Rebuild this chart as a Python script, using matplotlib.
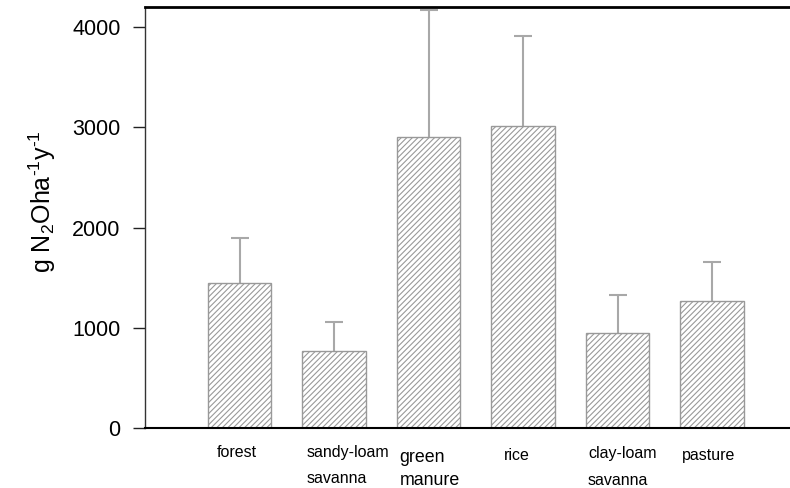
import matplotlib
matplotlib.use("Agg")
import matplotlib.pyplot as plt
import matplotlib.transforms as mtransforms

plt.rcParams['font.family'] = ['Liberation Sans', 'DejaVu Sans']
plt.rcParams['mathtext.default'] = 'regular'
plt.rcParams['hatch.color'] = '#9a9a9a'
plt.rcParams['hatch.linewidth'] = 0.8

categories = ["forest", "sandy-loam\nsavanna", "green\nmanure", "rice", "clay-loam\nsavanna", "pasture"]
values = [1444, 768, 2906, 3012, 950, 1267]
errors = [452, 289, 1260, 895, 374, 389]
yticks = [0, 1000, 2000, 3000, 4000]

# layout for the category labels (left offset from bar centre, baselines in px below axis, font size)
label_dx = [-0.238, -0.286, -0.307, -0.206, -0.312, -0.317]
label_dy = [[29], [29, 55], [33.5, 57], [32.5], [30, 57], [32]]
label_fs = [11.5, 11.5, 12.8, 11.5, 11.5, 11.5]

fig = plt.figure(figsize=(7.9, 4.88), dpi=100)
ax = fig.add_axes([145/790, 1 - 428/488, 1 - 145/790, (428 - 7)/488])

x = list(range(len(categories)))
ax.bar(x, values, width=0.67, color='white', edgecolor='#999999', linewidth=1.0,
       hatch='//////', zorder=2)
eb = ax.errorbar(x, values, yerr=[[0]*len(errors), errors], fmt='none', ecolor='#a8a8a8',
                 elinewidth=1.5, capsize=6.5, capthick=1.5, zorder=1)
eb[1][0].set_visible(False)

ax.set_xlim(-1.0, 5.825)
ax.set_ylim(0, 4200)
ax.set_yticks(yticks)
ax.set_yticklabels([str(t) for t in yticks], fontsize=15.5)
ax.tick_params(axis='y', direction='out', length=9, width=1.0, pad=8.5, color='#222222')
ax.set_xticks([])

ax.spines['right'].set_visible(False)
ax.spines['top'].set_linewidth(2.0)
ax.spines['bottom'].set_linewidth(1.5)
ax.spines['left'].set_linewidth(1.0)
ax.spines['left'].set_color('#333333')

for i, cat in enumerate(categories):
    lines = cat.split("\n")
    for line, dy in zip(lines, label_dy[i]):
        trans = mtransforms.blended_transform_factory(ax.transData, ax.transAxes) + \
            mtransforms.ScaledTranslation(0, -dy/100, fig.dpi_scale_trans)
        ax.text(i + label_dx[i], 0, line, transform=trans, ha='left', va='baseline',
                fontsize=label_fs[i], clip_on=False)

fig.text(42/790, 1 - 202/488, 'g N$_2$Oha$^{\u2010 1}$y$^{\u2010 1}$', rotation=90,
         ha='center', va='center', fontsize=18)

fig.savefig("out.png", dpi=100)
